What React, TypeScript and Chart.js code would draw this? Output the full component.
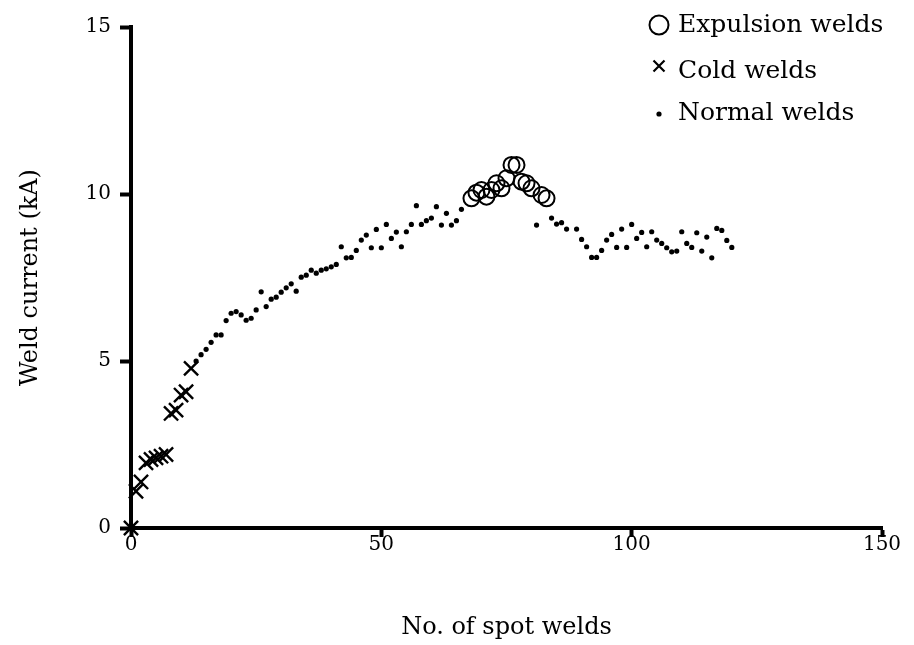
import { useEffect, useRef } from "react";
import { Chart, registerables } from "chart.js";

Chart.register(...registerables);

// ---- Data ----
const legendLabels = ["Expulsion welds", "Cold welds", "Normal welds"];

const expulsionX = [68, 69, 70, 71, 72, 73, 74, 75, 76, 77, 78, 79, 80, 82, 83];
const expulsionY = [9.87, 10.04, 10.12, 9.92, 10.12, 10.32, 10.17, 10.47, 10.87, 10.87, 10.37, 10.32, 10.17, 9.97, 9.87];

const coldX = [0, 1, 2, 3, 4, 5, 6, 7, 8, 9, 10, 11, 12];
const coldY = [0, 1.1, 1.38, 1.95, 2.05, 2.1, 2.15, 2.2, 3.43, 3.53, 3.98, 4.08, 4.78];

const normalX = [
  13, 14, 15, 16, 17, 18, 19, 20, 21, 22, 23, 24, 25, 26, 27, 28, 29, 30,
  31, 32, 33, 34, 35, 36, 37, 38, 39, 40, 41, 42, 43, 44, 45, 46, 47, 48, 49, 50,
  51, 52, 53, 54, 55, 56, 57, 58, 59, 60, 61, 62, 63, 64, 65, 66,
  81, 84, 85, 86, 87, 89, 90,
  91, 92, 93, 94, 95, 96, 97, 98, 99, 100, 101, 102, 103, 104, 105, 106, 107, 108, 109, 110,
  111, 112, 113, 114, 115, 116, 117, 118, 119, 120,
];
const normalY = [
  5.0, 5.19, 5.35, 5.56, 5.78, 5.78, 6.21, 6.43, 6.48, 6.38, 6.22, 6.28, 6.53, 7.07, 6.63, 6.85, 6.91, 7.06,
  7.19, 7.31, 7.09, 7.51, 7.57, 7.72, 7.63, 7.72, 7.76, 7.82, 7.89, 8.42, 8.09, 8.1, 8.31, 8.62, 8.77, 8.39, 8.94, 8.39,
  9.09, 8.67, 8.86, 8.42, 8.87, 9.09, 9.65, 9.09, 9.2, 9.28, 9.62, 9.07, 9.42, 9.07, 9.2, 9.54,
  9.07, 9.28, 9.1, 9.14, 8.95, 8.95, 8.64,
  8.42, 8.1, 8.1, 8.31, 8.62, 8.79, 8.4, 8.95, 8.4, 9.09, 8.67, 8.85, 8.42, 8.87, 8.62, 8.52, 8.39, 8.27, 8.29, 8.87,
  8.52, 8.4, 8.84, 8.29, 8.71, 8.09, 8.97, 8.91, 8.61, 8.4,
];

const xTicks = [0, 50, 100, 150];
const yTicks = [0, 5, 10, 15];
const xTitle = "No. of spot welds";
const yTitle = "Weld current (kA)";

const FONT = "'DejaVu Serif', 'Liberation Serif', serif";

function pts(xs: number[], ys: number[]) {
  return xs.map((x, i) => ({ x, y: ys[i] }));
}

export default function App() {
  const ref = useRef<HTMLCanvasElement | null>(null);

  useEffect(() => {
    document.body.style.margin = "0";
    const legendPlugin = {
      id: "sideLegend",
      afterDraw(chart: any) {
        const ctx = chart.ctx as CanvasRenderingContext2D;
        const mx = 659;
        const tx = 678;
        const rows = [25, 71, 113];
        ctx.save();
        ctx.strokeStyle = "#000";
        ctx.fillStyle = "#000";
        // circle
        ctx.lineWidth = 2;
        ctx.beginPath();
        ctx.arc(mx, rows[0], 9.5, 0, Math.PI * 2);
        ctx.stroke();
        // cross
        const s = 5.5;
        const cy = rows[1] - 5;
        ctx.lineWidth = 2.2;
        ctx.beginPath();
        ctx.moveTo(mx - s, cy - s);
        ctx.lineTo(mx + s, cy + s);
        ctx.moveTo(mx + s, cy - s);
        ctx.lineTo(mx - s, cy + s);
        ctx.stroke();
        // dot
        ctx.beginPath();
        ctx.arc(mx, rows[2] + 1, 2.6, 0, Math.PI * 2);
        ctx.fill();
        ctx.font = `25px ${FONT}`;
        ctx.textAlign = "left";
        ctx.textBaseline = "middle";
        legendLabels.forEach((t, i) => ctx.fillText(t, tx, rows[i]));
        ctx.restore();
      },
    };

    const chart = new Chart(ref.current as HTMLCanvasElement, {
      type: "scatter",
      data: {
        datasets: [
          {
            label: legendLabels[0],
            data: pts(expulsionX, expulsionY),
            pointStyle: "circle",
            pointRadius: 8,
            pointBorderWidth: 2,
            borderColor: "#000",
            backgroundColor: "rgba(0,0,0,0)",
            clip: false,
          },
          {
            label: legendLabels[1],
            data: pts(coldX, coldY),
            pointStyle: "crossRot",
            pointRadius: 10,
            pointBorderWidth: 2.4,
            borderColor: "#000",
            backgroundColor: "#000",
            clip: false,
          },
          {
            label: legendLabels[2],
            data: pts(normalX, normalY),
            pointStyle: "circle",
            pointRadius: 2.6,
            pointBorderWidth: 0,
            borderColor: "#000",
            backgroundColor: "#000",
            clip: false,
          },
        ],
      },
      options: {
        animation: false,
        responsive: true,
        maintainAspectRatio: false,
        layout: { padding: { top: 27, right: 32, left: 0, bottom: 0 } },
        plugins: {
          legend: { display: false },
          tooltip: { enabled: false },
        },
        scales: {
          x: {
            type: "linear",
            min: 0,
            max: 150,
            afterBuildTicks: (s: any) => {
              s.ticks = xTicks.map((v) => ({ value: v }));
            },
            afterFit: (s: any) => {
              s.height = 117;
            },
            ticks: {
              color: "#000",
              font: { family: FONT, size: 20 },
              padding: -4,
              maxRotation: 0,
            },
            grid: {
              display: true,
              drawOnChartArea: false,
              drawTicks: true,
              tickLength: 9,
              tickWidth: 4,
              tickColor: "#000",
            },
            border: { display: true, width: 4, color: "#000" },
            title: {
              display: true,
              text: xTitle,
              color: "#000",
              font: { family: FONT, size: 24 },
              padding: { top: 0, bottom: 3 },
            },
          },
          y: {
            type: "linear",
            min: 0,
            max: 15,
            afterBuildTicks: (s: any) => {
              s.ticks = yTicks.map((v) => ({ value: v }));
            },
            afterFit: (s: any) => {
              s.width = 131;
            },
            ticks: {
              color: "#000",
              font: { family: FONT, size: 20 },
              padding: 9,
            },
            grid: {
              display: true,
              drawOnChartArea: false,
              drawTicks: true,
              tickLength: 11,
              tickWidth: 4,
              tickColor: "#000",
            },
            border: { display: true, width: 4, color: "#000" },
            title: {
              display: true,
              text: yTitle,
              color: "#000",
              font: { family: FONT, size: 24 },
              padding: { top: 16, bottom: 0 },
            },
          },
        },
      },
      plugins: [legendPlugin],
    });
    return () => chart.destroy();
  }, []);

  return (
    <div style={{ position: "fixed", left: 0, top: 0, width: 914, height: 645, background: "#fff" }}>
      <canvas ref={ref} />
    </div>
  );
}
